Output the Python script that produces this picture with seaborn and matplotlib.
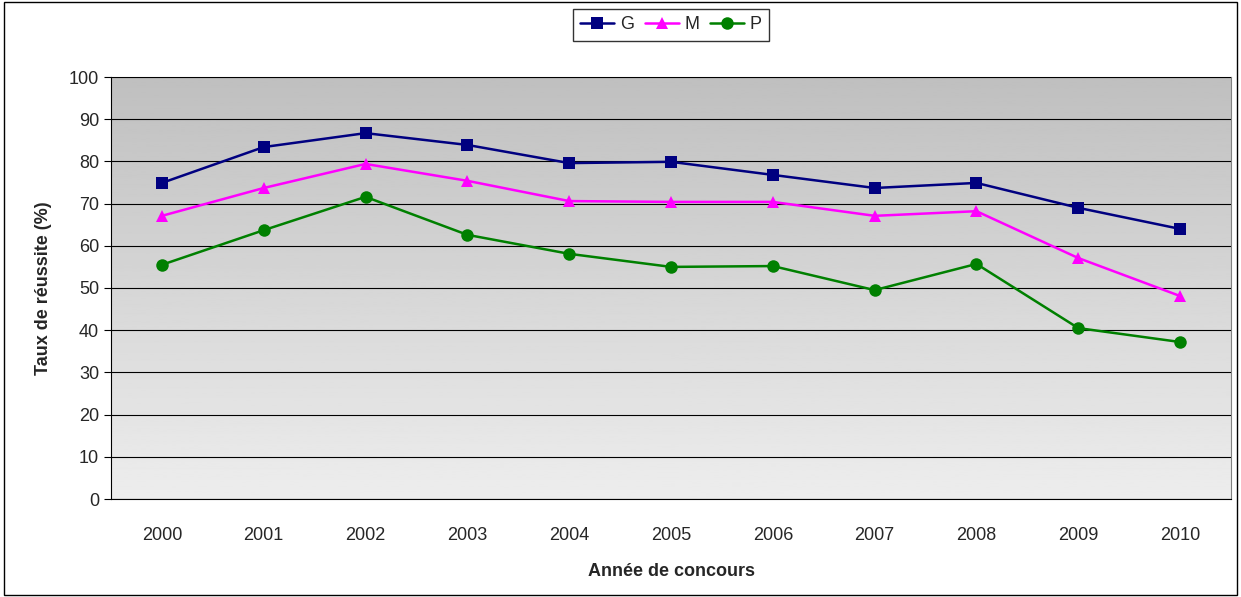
import numpy as np
import pandas as pd
import seaborn as sns
import matplotlib.pyplot as plt
from matplotlib.patches import Rectangle

# Data
years = ["2000", "2001", "2002", "2003", "2004", "2005", "2006", "2007", "2008", "2009", "2010"]
g_vals = [74.9, 83.4, 86.7, 83.9, 79.6, 79.9, 76.8, 73.7, 74.9, 69.0, 64.0]
m_vals = [67.1, 73.7, 79.4, 75.4, 70.6, 70.4, 70.4, 67.1, 68.2, 57.1, 48.1]
p_vals = [55.5, 63.7, 71.6, 62.6, 58.1, 55.0, 55.2, 49.5, 55.7, 40.5, 37.2]

df = pd.DataFrame({"Année": years * 3,
                   "Taux": g_vals + m_vals + p_vals,
                   "Série": ["G"] * 11 + ["M"] * 11 + ["P"] * 11})

sns.set_style("white")
plt.rcParams["font.family"] = ["Liberation Sans", "DejaVu Sans"]

fig = plt.figure(figsize=(12.41, 5.97), dpi=100)
ax = fig.add_axes([111 / 1241, 1 - 499 / 597, 1120 / 1241, 422 / 597])

# gradient background
grad = np.linspace(0.93, 0.75, 256).reshape(-1, 1)
ax.imshow(grad, cmap="gray", vmin=0, vmax=1, aspect="auto",
          extent=[0, 1, 0, 1], transform=ax.transAxes, zorder=0, origin="lower")

palette = {"G": "#000080", "M": "#ff00ff", "P": "#008000"}
markers = {"G": "s", "M": "^", "P": "o"}
sns.lineplot(data=df, x="Année", y="Taux", hue="Série", style="Série",
             palette=palette, markers=markers, dashes=False, markersize=9,
             linewidth=1.8, markeredgewidth=0, ax=ax, zorder=3)

ax.set_xlim(-0.5, len(years) - 0.5)
ax.set_ylim(0, 100)
ax.set_yticks(range(0, 101, 10))
ax.yaxis.grid(True, color="black", linewidth=0.8)
ax.set_axisbelow(False)
for s in ax.spines.values():
    s.set_color("#808080")
ax.spines["left"].set_color("black")
ax.spines["bottom"].set_color("black")

ax.set_xticks(range(len(years)))
ax.set_xticklabels(years)
ax.set_xticks(np.arange(-0.5, len(years), 1), minor=True)
ax.tick_params(axis="x", which="major", length=0, pad=20, labelsize=13)
ax.tick_params(axis="x", which="minor", length=5, color="black", direction="out")
ax.tick_params(axis="y", length=5, color="black", direction="out", labelsize=13, left=True)
ax.set_xlabel("Année de concours", fontsize=13, fontweight="bold", labelpad=14)
ax.set_ylabel("Taux de réussite (%)", fontsize=13, fontweight="bold", labelpad=12)

leg = ax.legend(loc="lower center", bbox_to_anchor=(0.5, 1.065), ncol=3, frameon=True,
                fontsize=13, handlelength=1.9, handletextpad=0.3, columnspacing=0.6,
                borderpad=0.4, fancybox=False, edgecolor="black")
leg.get_frame().set_linewidth(1)

fig.patches.append(Rectangle((0.003, 0.003), 0.994, 0.994, transform=fig.transFigure,
                             fill=False, edgecolor="black", linewidth=1))
fig.savefig("out.png", dpi=100)
